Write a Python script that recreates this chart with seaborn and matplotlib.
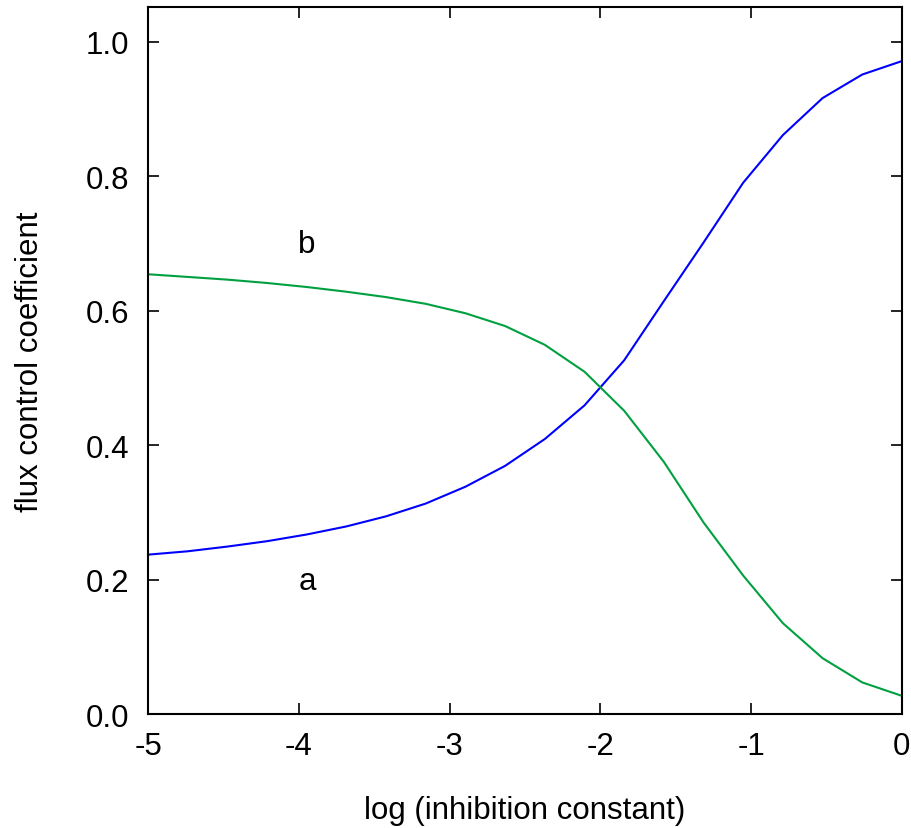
import matplotlib
matplotlib.use("Agg")
import matplotlib.pyplot as plt
import seaborn as sns
import pandas as pd

log_k = [-5.0, -4.737, -4.474, -4.211, -3.947, -3.684, -3.421, -3.158, -2.895, -2.632,
         -2.368, -2.105, -1.842, -1.579, -1.316, -1.053, -0.789, -0.526, -0.263, 0.0]
coef_a = [0.237, 0.242, 0.249, 0.257, 0.267, 0.279, 0.294, 0.313, 0.338, 0.369,
          0.409, 0.459, 0.526, 0.614, 0.701, 0.790, 0.861, 0.916, 0.951, 0.971]
coef_b = [0.654, 0.650, 0.646, 0.641, 0.635, 0.628, 0.620, 0.610, 0.596, 0.577,
          0.549, 0.509, 0.451, 0.375, 0.285, 0.206, 0.135, 0.083, 0.047, 0.027]
series_names = ["a", "b"]
x_ticks = [-5, -4, -3, -2, -1, 0]
y_ticks = [0.0, 0.2, 0.4, 0.6, 0.8, 1.0]

df = pd.DataFrame({
    "x": log_k * 2,
    "y": coef_a + coef_b,
    "series": [series_names[0]] * len(log_k) + [series_names[1]] * len(log_k),
})

sns.set_style("ticks")
plt.rcParams["font.family"] = ["Liberation Sans", "DejaVu Sans"]
plt.rcParams["text.color"] = "black"
plt.rcParams["axes.labelcolor"] = "black"

FS = 22.5

fig = plt.figure(figsize=(9.11, 8.29), dpi=100)
ax = fig.add_axes([0.1625, 0.1375, 0.8275, 0.8525])

sns.lineplot(data=df, x="x", y="y", hue="series",
             palette={"a": "#0000ff", "b": "#00a040"},
             linewidth=1.5, legend=False, ax=ax)

ax.set_xlim(-5, 0)
ax.set_ylim(0, 1.051)
ax.set_xticks(x_ticks)
ax.set_xticklabels([f"{t:d}" for t in x_ticks])
ax.set_yticks(y_ticks)
ax.set_yticklabels([f"{t:.1f}" for t in y_ticks])
ax.tick_params(direction="in", length=8, width=1.2, labelsize=FS,
               top=True, right=True, colors="black")
ax.tick_params(axis="x", pad=12)
ax.tick_params(axis="y", pad=13.5)
for s in ax.spines.values():
    s.set_linewidth(1.5)
    s.set_color("black")

ax.set_xlabel("log (inhibition constant)", fontsize=FS, labelpad=25, color="black")
ax.set_ylabel("flux control coefficient", fontsize=FS, labelpad=29, color="black")

ax.text(-3.945, 0.699, "b", fontsize=FS, ha="center", va="center", color="black")
ax.text(-3.945, 0.198, "a", fontsize=FS, ha="center", va="center", color="black")

fig.savefig("out.png", dpi=100)
